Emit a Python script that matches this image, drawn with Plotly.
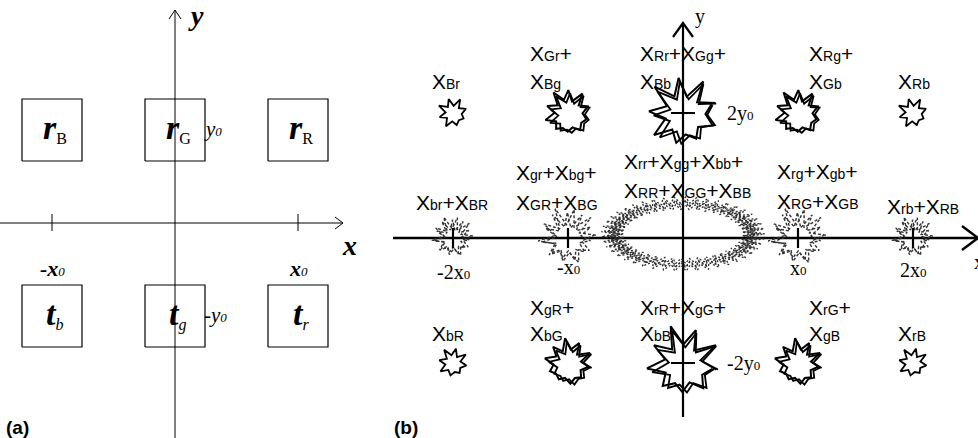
import re
import numpy as np
import plotly.graph_objects as go

# ---------------- data ----------------
# panel (a): antenna grid, positions in units of x0 / y0
a_cols = [-1, 0, 1]
a_rows = [1, -1]
a_top_names = ["B", "G", "R"]      # r_B, r_G, r_R
a_bot_names = ["b", "g", "r"]      # t_b, t_g, t_r
a_xticks = [-1, 1]
a_xtick_labels = ["-x", "x"]
a_ytick_labels = ["y", "-y"]

# panel (b): coupling terms at each (col*x0, row*y0)
b_cols = [-2, -1, 0, 1, 2]
b_rows = [2, 0, -2]
top_terms = [["Br"], ["Gr", "Bg"], ["Rr", "Gg", "Bb"], ["Rg", "Gb"], ["Rb"]]
mid_terms = [["br", "BR"], ["gr", "bg", "GR", "BG"],
             ["rr", "gg", "bb", "RR", "GG", "BB"],
             ["rg", "gb", "RG", "GB"], ["rb", "RB"]]
bot_terms = [["bR"], ["gR", "bG"], ["rR", "gG", "bB"], ["rG", "gB"], ["rB"]]
b_xticks = [-2, -1, 1, 2]
b_xtick_labels = ["-2x", "-x", "x", "2x"]
b_yticks = [2, -2]
b_ytick_labels = ["2y", "-2y"]

# ---------------- geometry / style ----------------
W, H = 978, 438
A_DOM = (0, 360); A_OX, A_OY = 175, 223; A_UX, A_UY = 123, 93
B_DOM = (380, 978); B_OX, B_OY = 683, 238; B_UX, B_UY = 115, 62.5

SANS = "Liberation Sans"
SERIF = "Liberation Serif"

fig = go.Figure()


def line(xs, ys, p, color="black", width=1, dash="solid"):
    fig.add_trace(go.Scatter(x=list(xs), y=list(ys), mode="lines",
                             xaxis="x" if p == "a" else "x2",
                             yaxis="y" if p == "a" else "y2",
                             line=dict(color=color, width=width, dash=dash),
                             hoverinfo="skip", showlegend=False))


def ann(text, x, y, p, size, family, xanchor="center", yanchor="middle", color="black"):
    fig.add_annotation(text=text, x=x, y=y,
                       xref="x" if p == "a" else "x2",
                       yref="y" if p == "a" else "y2",
                       showarrow=False, xanchor=xanchor, yanchor=yanchor,
                       font=dict(family=family, size=size, color=color))


def ux(p):
    return A_UX if p == "a" else B_UX


def uy(p):
    return A_UY if p == "a" else B_UY


JIT = [1.0, 0.9, 1.1, 0.85, 1.04, 0.95, 1.14, 0.88, 1.0, 0.92, 1.07]


def star(cx, cy, rpx, n, inner, rot, p, jit=True):
    k = np.arange(2 * n + 1)
    ang = rot + np.pi * k / n
    rad = np.where(k % 2 == 0, 1.0, inner) * rpx
    if jit:
        rad = rad * np.array([JIT[i % len(JIT)] for i in k])
    return cx + rad * np.cos(ang) / ux(p), cy + rad * np.sin(ang) / uy(p)


def xlabel(s):
    return re.sub(r"X\{(\w+)\}", r"X<span style='font-size:14px'>\1</span>", s)


# ---------------- panel (a) ----------------
ax_left = (A_DOM[0] - A_OX) / A_UX
ax_right = (343 - A_OX) / A_UX
line([ax_left, ax_right], [0, 0], "a")
line([ax_right - 8 / A_UX, ax_right, ax_right - 8 / A_UX], [6 / A_UY, 0, -6 / A_UY], "a")
ay_bot = -(H - A_OY) / A_UY
ay_top = (A_OY - 10) / A_UY
line([0, 0], [ay_bot, ay_top], "a")
line([-6 / A_UX, 0, 6 / A_UX], [ay_top - 9 / A_UY, ay_top, ay_top - 9 / A_UY], "a")
for t in a_xticks:
    line([t, t], [-8 / A_UY, 9 / A_UY], "a")

hw, hh = 30 / A_UX, 31 / A_UY
for row, names, letter in [(a_rows[0], a_top_names, "r"), (a_rows[1], a_bot_names, "t")]:
    for c, nm in zip(a_cols, names):
        line([c - hw, c + hw, c + hw, c - hw, c - hw],
             [row - hh, row - hh, row + hh, row + hh, row - hh], "a", width=1.2)
        sub = nm if letter == "r" else "<i>" + nm + "</i>"
        txt = ("<span style='font-size:34px'><b><i>%s</i></b></span>"
               "<sub>%s</sub>") % (letter, sub)
        ann(txt, c + 3 / A_UX, row + 2 / A_UY, "a", 23, SERIF)

for t, lab in zip(a_xticks, a_xtick_labels):
    ann("<b><i>%s</i></b><span style='font-size:13px'><i>0</i></span>" % lab,
        t, -45 / A_UY, "a", 22, SERIF)
for r, lab in zip(a_rows, a_ytick_labels):
    ann("<i>%s</i><span style='font-size:13px'><i>0</i></span>" % lab,
        hw - 3 / A_UX, r + 1 / A_UY, "a", 21, SERIF, xanchor="left")
ann("<b><i>x</i></b>", (349 - A_OX) / A_UX, -22 / A_UY, "a", 28, SERIF)
ann("<b><i>y</i></b>", (196 - A_OX) / A_UX, (A_OY - 15) / A_UY, "a", 28, SERIF)
ann("<b>(a)</b>", (4 - A_OX) / A_UX, -(427 - A_OY) / A_UY, "a", 19, SANS, xanchor="left")

# ---------------- panel (b) ----------------
bx_left = (393 - B_OX) / B_UX
bx_right = (W - B_OX) / B_UX
line([bx_left, bx_right], [0, 0], "b", width=2.5)
line([bx_right - 16 / B_UX, bx_right, bx_right - 16 / B_UX],
     [12 / B_UY, 0, -12 / B_UY], "b", width=2.5)
by_bot = -(417 - B_OY) / B_UY
by_top = (B_OY - 23) / B_UY
line([0, 0], [by_bot, by_top], "b", width=2.2)
line([-10 / B_UX, 0, 10 / B_UX], [by_top - 14 / B_UY, by_top, by_top - 14 / B_UY], "b", width=2.2)
ann("y", (700 - B_OX) / B_UX, (B_OY - 16) / B_UY, "b", 20, SERIF)
ann("x", (972 - B_OX) / B_UX, -(262 - B_OY) / B_UY, "b", 20, SERIF, xanchor="left")

SOLID_R = {1: 14, 2: 22, 3: 34}
DOT_R = {2: 20, 4: 28}

# solid stars (top and bottom rows)
for row, terms_row in [(b_rows[0], top_terms), (b_rows[2], bot_terms)]:
    for c, terms in zip(b_cols, terms_row):
        R = SOLID_R[len(terms)]
        rot = 0.3 if row > 0 else -0.2
        if len(terms) == 1:
            xs, ys = star(c, row, R, 8, 0.6, rot, "b")
            line(xs, ys, "b", width=1.8)
        else:
            n = 9 if len(terms) == 3 else 10
            inner = 0.58 if len(terms) == 3 else 0.66
            xs, ys = star(c, row, R, n, inner, rot, "b")
            line(xs, ys, "b", width=2)
            xs, ys = star(c + 3 / B_UX, row - 2 / B_UY, R * 0.95, n, inner, rot + 0.06, "b")
            line(xs, ys, "b", width=1.8)
        if len(terms) == 3:
            line([c - 12 / B_UX, c + 12 / B_UX], [row, row], "b", width=2)

# dotted stars on x axis
for c, terms in zip(b_cols, mid_terms):
    if len(terms) == 6:
        for rx, ry, off in [(70, 31, 0.0), (65, 27, 0.7), (75, 34, 1.4), (68, 30, 2.1)]:
            N = 90
            k = np.arange(N + 1)
            ang = 2 * np.pi * k / N + off
            m = 1 + 0.09 * np.where(k % 2 == 0, 1, -1)
            xs = c + rx * m * np.cos(ang) / B_UX
            ys = 4 / B_UY + ry * m * np.sin(ang) / B_UY
            line(xs, ys, "b", color="#2e2e2e", width=1.3, dash="2px,2px")
        continue
    R = DOT_R[len(terms)]
    for n, rot, s in [(10, 0.1, 1.0), (11, 0.45, 0.88)]:
        xs, ys = star(c, 0, R * s, n, 0.5, rot, "b")
        line(xs, ys, "b", color="#333333", width=1.4, dash="3px,2px")
    line([c, c], [-10 / B_UY, 10 / B_UY], "b", width=2.2)

# term labels
TB_OFF = {-2: -23, -1: -40, 0: -45, 1: 9, 2: -17}
MID_OFF = {-2: -39, -1: -54, 0: -61, 1: -23, 2: -28}
MID_Y = {-2: (None, 202), -1: (172, 202), 0: (161, 190), 1: (171, 201), 2: (None, 206)}


def join(ts):
    return "+".join("X{%s}" % t for t in ts)


for row, terms_row, y1, y2 in [(b_rows[0], top_terms, 53, 81), (b_rows[2], bot_terms, 307, 333)]:
    for c, terms in zip(b_cols, terms_row):
        x = c + TB_OFF[c] / B_UX
        if len(terms) > 1:
            ann(xlabel(join(terms[:-1]) + "+"), x, (B_OY - y1) / B_UY, "b", 21, SANS, xanchor="left")
        ann(xlabel(join(terms[-1:])), x, (B_OY - y2) / B_UY, "b", 21, SANS, xanchor="left")

for c, terms in zip(b_cols, mid_terms):
    x = c + MID_OFF[c] / B_UX
    y1, y2 = MID_Y[c]
    if len(terms) <= 2:
        ann(xlabel(join(terms)), x, (B_OY - y2) / B_UY, "b", 21, SANS, xanchor="left")
    else:
        h = len(terms) // 2
        ann(xlabel(join(terms[:h]) + "+"), x, (B_OY - y1) / B_UY, "b", 21, SANS, xanchor="left")
        ann(xlabel(join(terms[h:])), x, (B_OY - y2) / B_UY, "b", 21, SANS, xanchor="left")

TICK_DY = {-2: 34, -1: 29, 1: 30, 2: 32}
for t, lab in zip(b_xticks, b_xtick_labels):
    ann("%s<span style='font-size:13px'>0</span>" % lab, t, -TICK_DY[t] / B_UY, "b", 20, SERIF)
for r, lab in zip(b_yticks, b_ytick_labels):
    ann("%s<span style='font-size:13px'>0</span>" % lab, 42 / B_UX, r, "b", 20, SERIF,
        xanchor="left")
ann("<b>(b)</b>", (392 - B_OX) / B_UX, -(427 - B_OY) / B_UY, "b", 19, SANS, xanchor="left")

hidden = dict(visible=False, fixedrange=True)
fig.update_layout(
    width=W, height=H, margin=dict(l=0, r=0, t=0, b=0),
    paper_bgcolor="white", plot_bgcolor="white",
    xaxis=dict(domain=[A_DOM[0] / W, A_DOM[1] / W],
               range=[(A_DOM[0] - A_OX) / A_UX, (A_DOM[1] - A_OX) / A_UX], **hidden),
    yaxis=dict(domain=[0, 1], anchor="x",
               range=[-(H - A_OY) / A_UY, A_OY / A_UY], **hidden),
    xaxis2=dict(domain=[B_DOM[0] / W, B_DOM[1] / W],
                range=[(B_DOM[0] - B_OX) / B_UX, (B_DOM[1] - B_OX) / B_UX], **hidden),
    yaxis2=dict(domain=[0, 1], anchor="x2",
                range=[-(H - B_OY) / B_UY, B_OY / B_UY], **hidden),
    showlegend=False,
)
fig.write_html("out.html", config={"displayModeBar": False},
               post_script="document.body.style.margin='0';document.body.style.overflow='hidden';")
